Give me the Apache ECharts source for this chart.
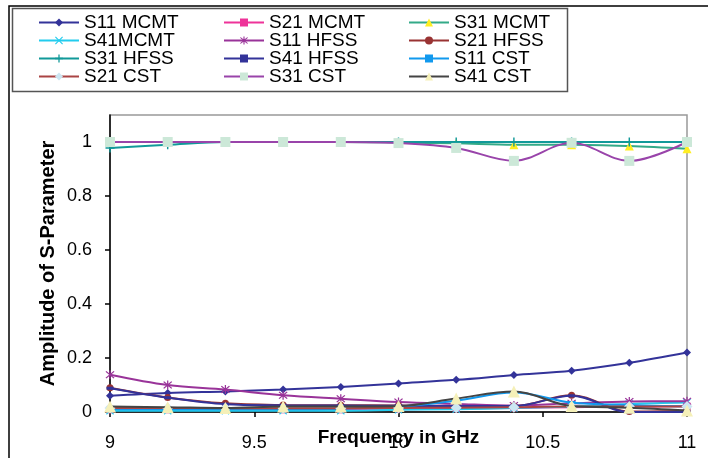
<!DOCTYPE html>
<html>
<head>
<meta charset="utf-8">
<script src="https://cdn.jsdelivr.net/npm/echarts@6/dist/echarts.min.js"></script>
<style>
html,body{margin:0;padding:0;background:#fff;}
#c{width:708px;height:458px;}
</style>
</head>
<body>
<div id="c"></div>
<script>
// ---- data ----
var freq = [9, 9.2, 9.4, 9.6, 9.8, 10, 10.2, 10.4, 10.6, 10.8, 11];
var xTicks = [9, 9.5, 10, 10.5, 11];
var yTicks = [0, 0.2, 0.4, 0.6, 0.8, 1];

var s11MCMT = [0.06, 0.07, 0.076, 0.083, 0.093, 0.106, 0.119, 0.137, 0.153, 0.182, 0.22];
var s21MCMT = [0.008, 0.008, 0.008, 0.008, 0.008, 0.01, 0.012, 0.015, 0.018, 0.02, 0.022];
var s31MCMT = [1.0, 1.0, 1.0, 1.0, 1.0, 0.998, 0.995, 0.99, 0.99, 0.985, 0.975];
var s41MCMT = [0.005, 0.005, 0.005, 0.005, 0.005, 0.008, 0.01, 0.015, 0.02, 0.03, 0.035];
var s11HFSS = [0.138, 0.1, 0.083, 0.062, 0.049, 0.037, 0.03, 0.024, 0.032, 0.039, 0.04];
var s21HFSS = [0.09, 0.054, 0.032, 0.026, 0.025, 0.024, 0.022, 0.022, 0.062, 0.002, 0.005];
var s31HFSS = [0.978, 0.99, 1.0, 1.0, 1.0, 1.0, 1.0, 1.0, 1.0, 1.0, 1.0];
var s41HFSS = [0.088, 0.053, 0.029, 0.025, 0.024, 0.023, 0.022, 0.022, 0.06, 0.0, 0.0];
var s11CST = [0.01, 0.01, 0.01, 0.01, 0.012, 0.02, 0.042, 0.072, 0.035, 0.026, 0.02];
var s21CST = [0.015, 0.015, 0.014, 0.014, 0.014, 0.015, 0.016, 0.018, 0.02, 0.02, 0.02];
var s31CST = [1.0, 1.0, 1.0, 1.0, 1.0, 0.996, 0.978, 0.93, 0.997, 0.93, 1.0];
var s41CST = [0.02, 0.018, 0.015, 0.02, 0.02, 0.022, 0.05, 0.076, 0.022, 0.016, 0.006];

var names = ['S11 MCMT','S21 MCMT','S31 MCMT','S41MCMT','S11 HFSS','S21 HFSS',
             'S31 HFSS','S41 HFSS','S11 CST','S21 CST','S31 CST','S41 CST'];
var values = [s11MCMT,s21MCMT,s31MCMT,s41MCMT,s11HFSS,s21HFSS,s31HFSS,s41HFSS,s11CST,s21CST,s31CST,s41CST];

// ---- styles ----
var X_PATH = 'path://M1,0 L5,4 L9,0 L10,1 L6,5 L10,9 L9,10 L5,6 L1,10 L0,9 L4,5 L0,1 Z';
var PLUS_PATH = 'path://M4.2,0 H5.8 V4.2 H10 V5.8 H5.8 V10 H4.2 V5.8 H0 V4.2 H4.2 Z';
var STAR_PATH = 'path://M1,0 L5,4 L9,0 L10,1 L6,5 L10,9 L9,10 L5,6 L1,10 L0,9 L4,5 L0,1 Z M4.3,-1 H5.7 V11 H4.3 Z';
var styles = [
  {line:'#333399', mk:'#333399', sym:'diamond', size:8},
  {line:'#ee3399', mk:'#ee3399', sym:'rect', size:7},
  {line:'#33aa88', mk:'#ffee22', sym:'triangle', size:9},
  {line:'#22ccee', mk:'#22ccee', sym:X_PATH, size:8},
  {line:'#993399', mk:'#993399', sym:STAR_PATH, size:9},
  {line:'#993333', mk:'#993333', sym:'circle', size:7},
  {line:'#119999', mk:'#119999', sym:PLUS_PATH, size:9},
  {line:'#333399', mk:'#333399', sym:'rect', size:[7,3]},
  {line:'#1199ee', mk:'#1199ee', sym:'rect', size:[8,3]},
  {line:'#aa4444', mk:'#cce6f2', sym:'diamond', size:11},
  {line:'#9944aa', mk:'#cce8d8', sym:'rect', size:10},
  {line:'#444444', mk:'#f5f0b8', sym:'triangle', size:12}
];

var series = names.map(function(n, i){
  return {
    name: n, type: 'line', smooth: 0.35,
    data: freq.map(function(f, j){ return [f, values[i][j]]; }),
    symbol: styles[i].sym, symbolSize: styles[i].size, showSymbol: true,
    lineStyle: {color: styles[i].line, width: 2},
    itemStyle: {color: styles[i].mk, borderWidth: 0},
    z: 2 + i, emphasis: {disabled: true}
  };
});

function legendCol(idx, left){
  return {
    orient: 'vertical', left: left, top: 13, itemGap: -1, padding: 0,
    itemWidth: 40, itemHeight: 10,
    data: idx.map(function(k){ return names[k]; }),
    textStyle: {fontFamily: 'Liberation Sans', fontSize: 19, color: '#000', lineHeight: 18},
    selectedMode: false
  };
}

var chart = echarts.init(document.getElementById('c'), null, {renderer: 'canvas'});
chart.setOption({
  animation: false,
  backgroundColor: '#fff',
  graphic: [
    {type: 'polyline', shape: {points: [[9, 458], [9, 6], [708, 6]]}, style: {stroke: '#000', lineWidth: 1.5, fill: null}, z: 100},
    {type: 'rect', shape: {x: 12.5, y: 8.5, width: 555, height: 83}, style: {stroke: '#555', lineWidth: 1.5, fill: null}, z: 100}
  ],
  legend: [legendCol([0,3,6,9], 38), legendCol([1,4,7,10], 223), legendCol([2,5,8,11], 408)],
  grid: {left: 110, right: 21, top: 115, bottom: 46, containLabel: false, outerBoundsMode: 'none',
    show: true, borderColor: '#999', borderWidth: 1.5, backgroundColor: 'transparent'},
  xAxis: {
    type: 'value', min: 9, max: 11, interval: 0.5,
    name: 'Frequency in GHz', nameLocation: 'middle', nameGap: 16, nameMoveOverlap: false,
    nameTextStyle: {fontFamily: 'Liberation Sans', fontWeight: 'bold', fontSize: 19, color: '#000'},
    axisLine: {lineStyle: {color: '#000', width: 1.5}},
    axisTick: {length: 5, lineStyle: {color: '#000', width: 1.5}},
    splitLine: {show: false},
    axisLabel: {margin: 22, fontFamily: 'Liberation Sans', fontSize: 18, color: '#000',
      formatter: function(v){ return xTicks.indexOf(v) >= 0 ? String(v) : ''; }}
  },
  yAxis: {
    type: 'value', min: 0, max: 1.1, interval: 0.2,
    name: 'Amplitude of S-Parameter', nameLocation: 'middle', nameGap: 52, nameMoveOverlap: false,
    nameTextStyle: {fontFamily: 'Liberation Sans', fontWeight: 'bold', fontSize: 20, color: '#000'},
    axisLine: {show: true, lineStyle: {color: '#000', width: 1.5}},
    axisTick: {show: true, length: 5, lineStyle: {color: '#000', width: 1.5}},
    splitLine: {show: false},
    axisLabel: {margin: 18, showMaxLabel: false, fontFamily: 'Liberation Sans', fontSize: 18, color: '#000',
      formatter: function(v){ var r = Math.round(v*10)/10; return yTicks.indexOf(r) >= 0 ? String(r) : ''; }}
  },
  series: series
});
</script>
</body>
</html>
